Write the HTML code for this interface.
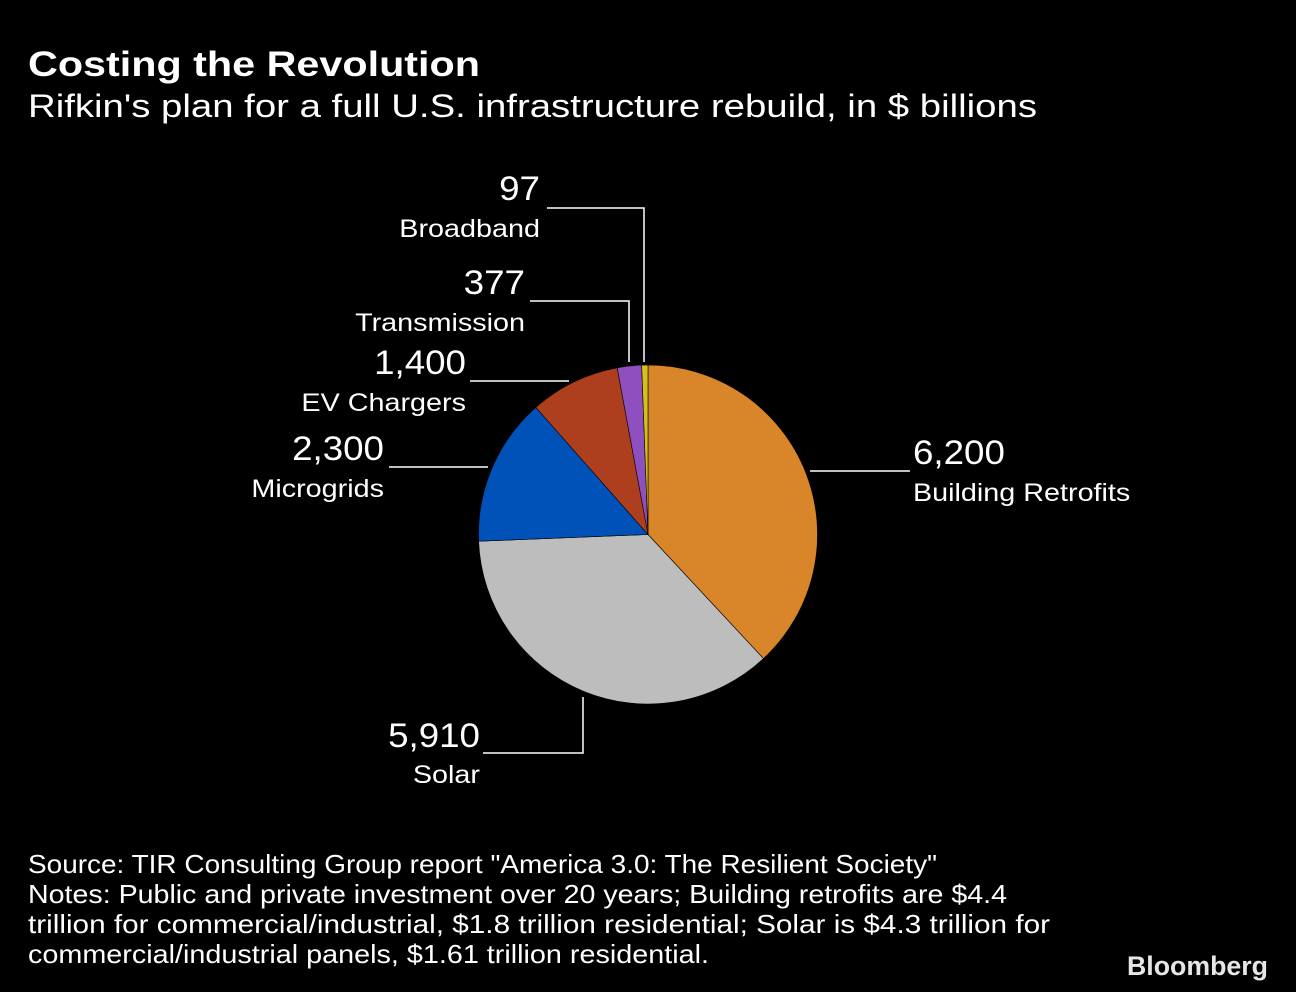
<!DOCTYPE html>
<html><head><meta charset="utf-8"><style>
html,body{margin:0;padding:0;background:#000;}
svg{display:block;font-family:"Liberation Sans",sans-serif;}
</style></head><body>
<svg id="chart" width="1296" height="992" viewBox="0 0 1296 992">
<rect width="1296" height="992" fill="#000"/>
<text x="28" y="76" fill="#fff" font-size="35" font-weight="bold" textLength="452" lengthAdjust="spacingAndGlyphs">Costing the Revolution</text>
<text x="28" y="117" fill="#fff" font-size="32" textLength="1009" lengthAdjust="spacingAndGlyphs">Rifkin's plan for a full U.S. infrastructure rebuild, in $ billions</text>
<g id="slices"></g>
<g id="leaders" stroke="#fff" stroke-width="1.5" fill="none">
<polyline points="547,208 644,208 644,362"/>
<polyline points="530,301 629,301 629,362"/>
<polyline points="470,381 569,381"/>
<polyline points="389,467 488,467"/>
<polyline points="810,471 910,471"/>
<polyline points="483,753 583,753 583,697"/>
</g>
<g id="labels" fill="#fff"></g>
<g fill="#fff" font-size="26">
<text x="28" y="873" textLength="909" lengthAdjust="spacingAndGlyphs">Source: TIR Consulting Group report "America 3.0: The Resilient Society"</text>
<text x="28" y="903" textLength="979" lengthAdjust="spacingAndGlyphs">Notes: Public and private investment over 20 years; Building retrofits are $4.4</text>
<text x="28" y="933" textLength="1022" lengthAdjust="spacingAndGlyphs">trillion for commercial/industrial, $1.8 trillion residential; Solar is $4.3 trillion for</text>
<text x="28" y="963" textLength="681" lengthAdjust="spacingAndGlyphs">commercial/industrial panels, $1.61 trillion residential.</text>
</g>
<text x="1127" y="975" fill="#e6e6e6" font-size="27" font-weight="bold" textLength="141" lengthAdjust="spacingAndGlyphs">Bloomberg</text>
</svg>
<script>
const categories = ["Building Retrofits","Solar","Microgrids","EV Chargers","Transmission","Broadband"];
const values = [6200, 5910, 2300, 1400, 377, 97];
const valueLabels = ["6,200","5,910","2,300","1,400","377","97"];
const colors = ["#d9862a","#bdbdbd","#0052b9","#ad3e1e","#8e4fbf","#d4c01b"];
const ns = "http://www.w3.org/2000/svg";
const cx = 648, cy = 534.5, r = 169.5;
const total = values.reduce((a,b)=>a+b,0);
function angleOf(v){ return v/total*2*Math.PI; }
function pt(a){ return [cx + r*Math.sin(a), cy - r*Math.cos(a)]; }
const g = document.getElementById("slices");
let start = 0;
values.forEach((v,i)=>{
  const a = angleOf(v), end = start + a;
  const p0 = pt(start), p1 = pt(end);
  const large = a > Math.PI ? 1 : 0;
  const path = document.createElementNS(ns,"path");
  path.setAttribute("d",`M${cx},${cy} L${p0[0]},${p0[1]} A${r},${r} 0 ${large} 1 ${p1[0]},${p1[1]} Z`);
  path.setAttribute("fill",colors[i]);
  path.setAttribute("stroke","#000");
  path.setAttribute("stroke-width","0.6");
  
  
  g.appendChild(path);
  start = end;
});
const layout = [[913,464,501,"start"],[480,747,783,"end"],[384,460,497,"end"],[466,374,411,"end"],[525,294,331,"end"],[540,200,237,"end"]];
const lg = document.getElementById("labels");
function stretch(t, f){
  const w = t.getComputedTextLength();
  t.setAttribute("textLength", (w*f).toFixed(1));
  t.setAttribute("lengthAdjust","spacingAndGlyphs");
}
categories.forEach((c,i)=>{
  const L = layout[i];
  const t1 = document.createElementNS(ns,"text");
  t1.setAttribute("x",L[0]); t1.setAttribute("y",L[1]);
  t1.setAttribute("text-anchor",L[3]); t1.setAttribute("font-size","34");
  t1.textContent = valueLabels[i];
  
  
  lg.appendChild(t1);
  stretch(t1, 1.08);
  const t2 = document.createElementNS(ns,"text");
  t2.setAttribute("x",L[0]); t2.setAttribute("y",L[2]);
  t2.setAttribute("text-anchor",L[3]); t2.setAttribute("font-size","25");
  t2.textContent = c;
  
  
  lg.appendChild(t2);
  stretch(t2, 1.15);
});
</script>
</body></html>
